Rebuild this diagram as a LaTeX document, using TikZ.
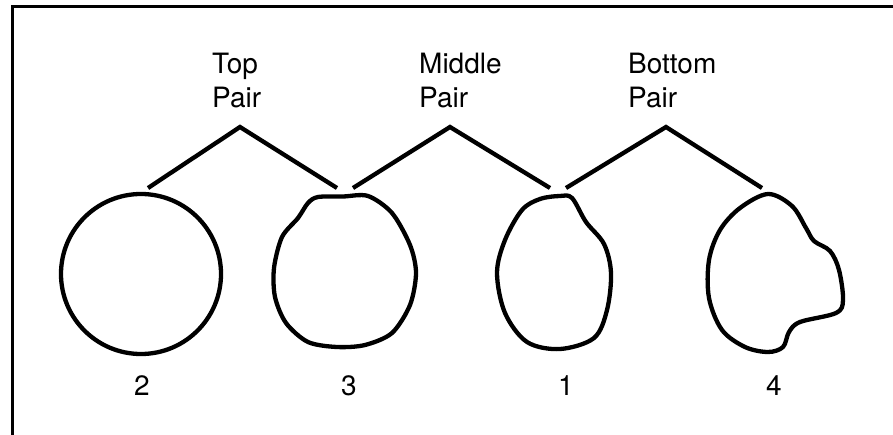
\documentclass[tikz,border=0pt]{standalone}
\usepackage{fontspec}
\setmainfont{TeX Gyre Heros}
\begin{document}
\begin{tikzpicture}[x=1pt,y=-1pt,
  shapeline/.style={line width=4.3pt, line join=round},
  branch/.style={line width=4.3pt},
  lbl/.style={inner sep=0pt, align=left, anchor=north west, font=\fontsize{28}{34}\selectfont},
  num/.style={inner sep=0pt, anchor=base, font=\fontsize{28}{34}\selectfont}]
\useasboundingbox (0,0) rectangle (893,435);
% frame
\draw[line width=3pt] (12,445) -- (12,7) -- (905,7);
% labels
\node[lbl] (top) at (212,53) {Top\\Pair};
\node[lbl] (mid) at (419,53) {Middle\\Pair};
\node[lbl] (bot) at (628,53) {Bottom\\Pair};
\node[num] (n2) at (142,395) {2};
\node[num] (n3) at (349,395) {3};
\node[num] (n1) at (566,395) {1};
\node[num] (n4) at (774,395) {4};
% connector points
\coordinate (ta) at (240,127);
\coordinate (tl) at (148,188);
\coordinate (tr) at (337,188);
\coordinate (ma) at (450,127);
\coordinate (ml) at (353,188);
\coordinate (mr) at (550,188);
\coordinate (ba) at (666,127);
\coordinate (bl) at (566,188);
\coordinate (br) at (762,188);
\draw[branch] (tl) -- (ta) -- (tr);
\draw[branch] (ml) -- (ma) -- (mr);
\draw[branch] (bl) -- (ba) -- (br);
% shape 2: circle
\draw[shapeline] (141,274) circle[radius=80];
% shape 3
\draw[shapeline] plot[smooth cycle, tension=0.5] coordinates {
 (318,197) (343,196.5) (368,196) (392,213) (410,245) (416,273) (410,305)
 (392,333) (365,345) (337,347) (308,342) (286,323) (275,297) (274,268)
 (282,237) (298,218) (308,203)};
% shape 1
\draw[shapeline] plot[smooth cycle, tension=0.55] coordinates {
 (560,196) (572,198) (586,222) (604,244) (611,273) (607,310) (594,338)
 (560,349) (527,342) (505,313) (497,273) (505,240) (522,210) (540,199)};
% shape 4
\draw[shapeline] plot[smooth cycle, tension=0.55] coordinates {
 (768,194) (792,206) (806,228) (814,241) (830,251) (839,270) (843,300)
 (836,313) (800,322) (789,332) (783,347) (768,352) (745,347) (722,330)
 (709,298) (709,260) (720,230) (740,208)};
\end{tikzpicture}
\end{document}
